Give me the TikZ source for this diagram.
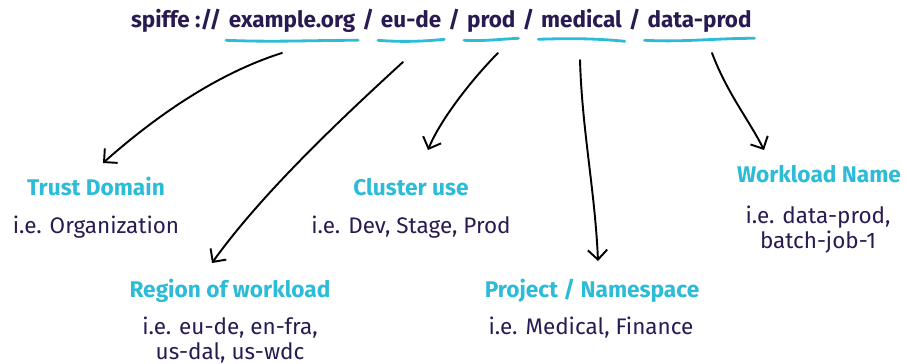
\documentclass[tikz,border=0pt]{standalone}
\usepackage{fontspec}
\setmainfont{Fira Sans}
\usetikzlibrary{positioning,arrows.meta}
\definecolor{spiffeink}{HTML}{2A1A52}
\definecolor{spiffecyan}{HTML}{2DBCD8}
\tikzset{
  part/.style={inner sep=0pt, outer sep=0pt, text=spiffeink, font=\bfseries\fontsize{12.8}{15}\selectfont},
  uline/.style={spiffecyan, line width=1.6pt, line cap=round},
  pointer/.style={-{Straight Barb[length=5.5pt,width=11pt,line width=1.1pt]}, line width=1.1pt, line cap=round, line join=round},
  heading/.style={text=spiffecyan, font=\bfseries\fontsize{12.9}{15}\selectfont, inner sep=0pt},
  example/.style={text=spiffeink, font=\fontsize{12.8}{14}\selectfont, align=center, inner sep=0pt},
}
\begin{document}
\begin{tikzpicture}[x=0.02cm, y=-0.02cm]
  \fill[white] (0,0) rectangle (905,364);
  \useasboundingbox (0,0) rectangle (905,364);
  % ID path
  \node[part, anchor=base west] (scheme) at (131,28) {spiffe ://};
  \node[part, base right=4.4pt of scheme] (org) {example.org};
  \node[part, base right=4pt of org] (sl1) {/};
  \node[part, base right=4pt of sl1] (region) {eu-de};
  \node[part, base right=4pt of region] (sl2) {/};
  \node[part, base right=4pt of sl2] (cluster) {prod};
  \node[part, base right=4pt of cluster] (sl3) {/};
  \node[part, base right=4pt of sl3] (project) {medical};
  \node[part, base right=4pt of project] (sl4) {/};
  \node[part, base right=4pt of sl4] (workload) {data-prod};
  % Underlines
  \draw[uline] ([shift={(-3,0)}, yshift=-7pt]org.base west) .. controls +(50,2) and +(-50,0) .. ([shift={(3,0)}, yshift=-7pt]org.base east);
  \draw[uline] ([shift={(-3,0)}, yshift=-7pt]region.base west) .. controls +(25,2) and +(-20,2) .. ([shift={(3,-1)}, yshift=-7pt]region.base east);
  \draw[uline] ([shift={(-3,0)}, yshift=-7pt]cluster.base west) .. controls +(20,1) and +(-20,1) .. ([shift={(3,-2)}, yshift=-7pt]cluster.base east);
  \draw[uline] ([shift={(-3,-1)}, yshift=-7pt]project.base west) .. controls +(30,-1) and +(-30,-3) .. ([shift={(3,1)}, yshift=-7pt]project.base east);
  \draw[uline] ([shift={(-3,0)}, yshift=-7pt]workload.base west) .. controls +(40,2) and +(-40,0) .. ([shift={(3,-2)}, yshift=-7pt]workload.base east);
  % Headings
  \node[heading] (trust) at (96,187) {Trust Domain};
  \node[heading] (regionhead) at (230,291) {Region of workload};
  \node[heading] (clusterhead) at (411,187) {Cluster use};
  \node[heading] (projecthead) at (592,291) {Project / Namespace};
  \node[heading] (workloadhead) at (819,174) {Workload Name};
  % Examples
  \node[example] (trustex) at (96,227) {i.e. Organization};
  \node[example, anchor=north] (regionex) at (230,317) {i.e. eu-de, en-fra,\\ us-dal, us-wdc};
  \node[example] (clusterex) at (411,227) {i.e. Dev, Stage, Prod};
  \node[example] (projectex) at (591,328) {i.e. Medical, Finance};
  \node[example, anchor=north] (workloadex) at (818,206) {i.e. data-prod,\\ batch-job-1};
  % Pointers
  \coordinate (orgtail) at (282,53);
  \coordinate (regiontail) at (403,62);
  \coordinate (clustertail) at (498,53);
  \coordinate (projecttail) at (580,60);
  \coordinate (workloadtail) at (712,53);
  \draw[pointer] (orgtail) .. controls +(-70,22) and +(45,-40) .. ([shift={(7,-24)}]trust.center);
  \draw[pointer] (regiontail) .. controls +(-60,55) and +(50,-70) .. ([shift={(-18,-28)}]regionhead.center);
  \draw[pointer] (clustertail) .. controls +(-25,25) and +(12,-30) .. ([shift={(17,-37)}]clusterhead.center);
  \draw[pointer] (projecttail) .. controls +(2,70) and +(-3,-70) .. ([shift={(6,-30)}]projecthead.center);
  \draw[pointer] (workloadtail) .. controls +(15,40) and +(-15,-30) .. ([shift={(-55,-24)}]workloadhead.center);
\end{tikzpicture}
\end{document}
